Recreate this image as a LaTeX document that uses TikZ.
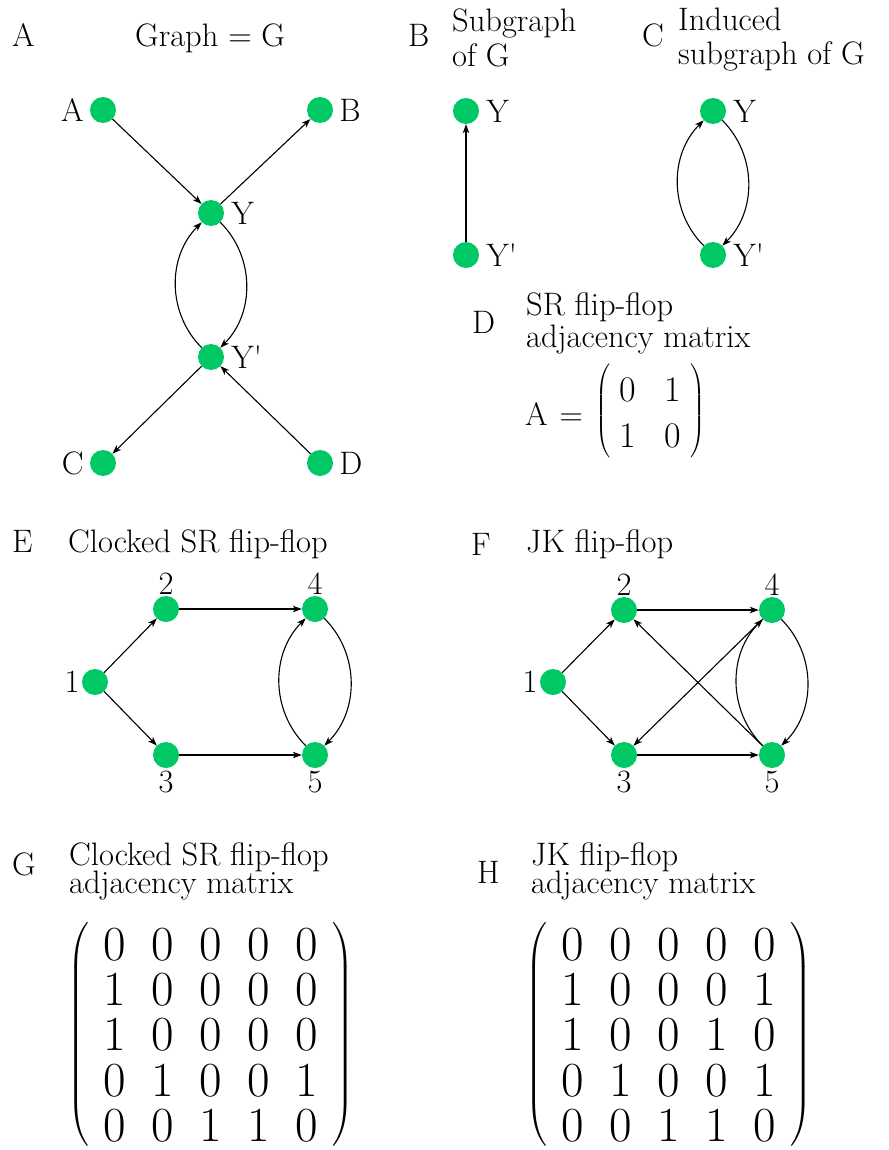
\RequirePackage{fix-cm}
\documentclass[tikz,border=0pt]{standalone}
\usepackage{amsmath}
\usetikzlibrary{arrows.meta,matrix}
\definecolor{nodegreen}{RGB}{0,200,100}
\newcommand{\txtfont}{\fontsize{32.5}{36}\selectfont}
\tikzset{
  vtx/.style={circle, fill=nodegreen, minimum size=26pt, inner sep=0pt},
  arr/.style={line width=1.1pt, -{Stealth[length=9pt,width=6.5pt,inset=2.5pt]}},
  every label/.style={font=\txtfont, inner sep=1pt},
  txt/.style={font=\txtfont, inner sep=0pt, anchor=base west},
  bigdelim/.style={every delimiter/.style={font=\fontsize{25}{30}\selectfont}},
  smalldelim/.style={every delimiter/.style={font=\fontsize{18}{22}\selectfont}},
  bigmat/.style={matrix of nodes,
    nodes={font=\fontsize{49}{52}\selectfont, inner sep=0pt, minimum width=30pt, minimum height=40pt},
    row sep=5pt, column sep=18pt, inner xsep=9pt, inner ysep=0pt,
    left delimiter=(, right delimiter=)},
  smallmat/.style={matrix of nodes,
    nodes={font=\fontsize{36}{40}\selectfont, inner sep=0pt, minimum width=32pt, minimum height=42pt},
    row sep=4pt, column sep=13pt, inner xsep=0pt, inner ysep=0pt,
    left delimiter=(, right delimiter=)},
}
\begin{document}
\begin{tikzpicture}[x=1pt,y=1pt]
\useasboundingbox (0,0) rectangle (888,-1150);

% ---------- Panel A ----------
\node[txt] (lA) at (12,-47) {A};
\node[txt] (tA) at (135,-47) {Graph = G};
\node[vtx, label={[label distance=5pt]left:A}] (gA) at (103,-110) {};
\node[vtx, label={[label distance=5pt]right:B}] (gB) at (320,-110) {};
\node[vtx, label={[label distance=6pt]right:Y}] (gY) at (211,-213) {};
\node[vtx, label={[label distance=6pt]right:Y\textquotesingle}] (gYp) at (211,-357) {};
\node[vtx, label={[label distance=5pt]left:C}] (gC) at (103,-463) {};
\node[vtx, label={[label distance=5pt]right:D}] (gD) at (320,-463) {};
\draw[arr] (gA) -- (gY);
\draw[arr] (gY) -- (gB);
\draw[arr] (gY) to[bend left=45] (gYp);
\draw[arr] (gYp) to[bend left=45] (gY);
\draw[arr] (gYp) -- (gC);
\draw[arr] (gD) -- (gYp);

% ---------- Panel B ----------
\node[txt] (lB) at (408,-47) {B};
\node[txt] (tB1) at (452,-32) {Subgraph};
\node[txt] (tB2) at (452,-67) {of G};
\node[vtx, label={[label distance=6pt]right:Y}] (bY) at (466,-111) {};
\node[vtx, label={[label distance=6pt]right:Y\textquotesingle}] (bYp) at (466,-255) {};
\draw[arr] (bYp) -- (bY);

% ---------- Panel C ----------
\node[txt] (lC) at (642,-47) {C};
\node[txt] (tC1) at (678,-31) {Induced};
\node[txt] (tC2) at (678,-65) {subgraph of G};
\node[vtx, label={[label distance=6pt]right:Y}] (cY) at (713,-111) {};
\node[vtx, label={[label distance=6pt]right:Y\textquotesingle}] (cYp) at (713,-255) {};
\draw[arr] (cY) to[bend left=45] (cYp);
\draw[arr] (cYp) to[bend left=45] (cY);

% ---------- Panel D ----------
\node[txt] (lD) at (472,-333) {D};
\node[txt] (tD1) at (526,-315) {SR flip-flop};
\node[txt] (tD2) at (526,-347) {adjacency matrix};
\node[txt] (tDA) at (525,-425) {A\hspace{12pt}=};
\begin{scope}[smalldelim]
\matrix[smallmat] (mD) at (650.5,-413) {
  0 & 1 \\
  1 & 0 \\
};
\end{scope}

% ---------- Panel E ----------
\node[txt] (lE) at (12,-552) {E};
\node[txt] (tE) at (68,-552) {Clocked SR flip-flop};
\node[vtx, label={[label distance=1pt]left:1}] (e1) at (95,-682) {};
\node[vtx, label={[label distance=0pt]above:2}] (e2) at (166,-609) {};
\node[vtx, label={[label distance=0pt]above:4}] (e4) at (315,-609) {};
\node[vtx, label={[label distance=2pt]below:3}] (e3) at (166,-755) {};
\node[vtx, label={[label distance=2pt]below:5}] (e5) at (315,-755) {};
\draw[arr] (e1) -- (e2);
\draw[arr] (e1) -- (e3);
\draw[arr] (e2) -- (e4);
\draw[arr] (e3) -- (e5);
\draw[arr] (e4) to[bend left=45] (e5);
\draw[arr] (e5) to[bend left=45] (e4);

% ---------- Panel F ----------
\node[txt] (lF) at (471,-555) {F};
\node[txt] (tF) at (526,-552) {JK flip-flop};
\node[vtx, label={[label distance=1pt]left:1}] (f1) at (553,-682) {};
\node[vtx, label={[label distance=0pt]above:2}] (f2) at (624,-610) {};
\node[vtx, label={[label distance=0pt]above:4}] (f4) at (772,-610) {};
\node[vtx, label={[label distance=2pt]below:3}] (f3) at (624,-755) {};
\node[vtx, label={[label distance=2pt]below:5}] (f5) at (772,-755) {};
\draw[arr] (f1) -- (f2);
\draw[arr] (f1) -- (f3);
\draw[arr] (f2) -- (f4);
\draw[arr] (f3) -- (f5);
\draw[arr] (f4) -- (f3);
\draw[arr] (f5) -- (f2);
\draw[arr] (f4) to[bend left=45] (f5);
\draw[arr] (f5) to[bend left=45] (f4);

% ---------- Panel G ----------
\node[txt] (lG) at (12,-875) {G};
\node[txt] (tG1) at (69,-865) {Clocked SR flip-flop};
\node[txt] (tG2) at (69,-893) {adjacency matrix};
\begin{scope}[bigdelim]
\matrix[bigmat] (mG) at (211,-1035) {
  0 & 0 & 0 & 0 & 0 \\
  1 & 0 & 0 & 0 & 0 \\
  1 & 0 & 0 & 0 & 0 \\
  0 & 1 & 0 & 0 & 1 \\
  0 & 0 & 1 & 1 & 0 \\
};
\end{scope}

% ---------- Panel H ----------
\node[txt] (lH) at (477,-883) {H};
\node[txt] (tH1) at (531,-865) {JK flip-flop};
\node[txt] (tH2) at (531,-893) {adjacency matrix};
\begin{scope}[bigdelim]
\matrix[bigmat] (mH) at (669,-1035) {
  0 & 0 & 0 & 0 & 0 \\
  1 & 0 & 0 & 0 & 1 \\
  1 & 0 & 0 & 1 & 0 \\
  0 & 1 & 0 & 0 & 1 \\
  0 & 0 & 1 & 1 & 0 \\
};
\end{scope}
\end{tikzpicture}
\end{document}
